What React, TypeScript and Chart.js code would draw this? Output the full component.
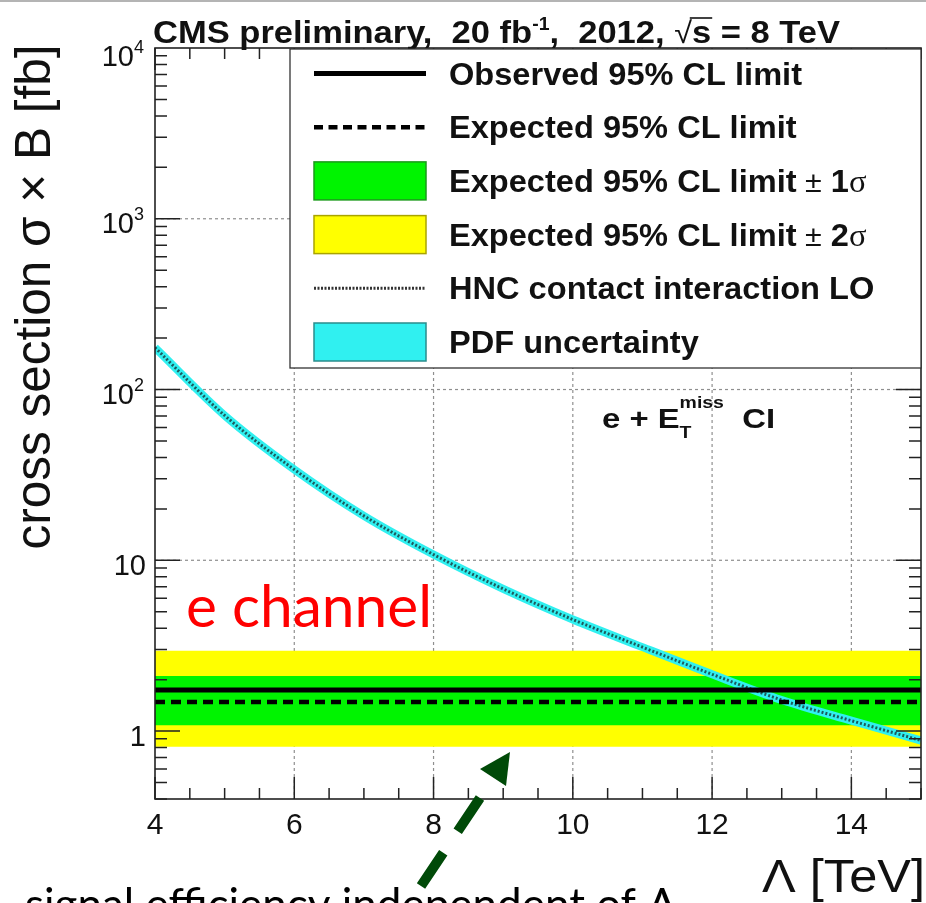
import React, { useEffect, useRef } from "react";
import { Chart, registerables } from "chart.js";

Chart.register(...registerables);

// Contact-interaction scale Λ (TeV) and the LO signal cross section σ×B (fb)
const lambdaTeV = [4, 5, 6, 7, 8, 9, 10, 11, 12, 13, 14, 15];
const hncCrossSection = [176, 70.5, 34, 18.2, 10.8, 6.8, 4.5, 3.1, 2.15, 1.52, 1.15, 0.88];

// Λ-independent 95% CL limits on σ×B (fb)
const observedLimit = 1.74;
const expectedLimit = 1.48;
const expectedOneSigma = [1.08, 2.1];
const expectedTwoSigma = [0.81, 2.95];

// Axis ranges and ticks
const xLimits = [4, 15];
const yLimits = [0.4, 1e4];
const xTickValues = [4, 6, 8, 10, 12, 14];
const xMinorStep = 0.5;
const yDecades = [1, 10, 100, 1000, 10000];
const yTickLabels = ["1", "10", "10^2", "10^3", "10^4"];

// Legend entries
const legendLabels = [
  "Observed 95% CL limit",
  "Expected 95% CL limit",
  "Expected 95% CL limit",
  "Expected 95% CL limit",
  "HNC contact interaction LO",
  "PDF uncertainty",
];
const legendSigma = ["", "", "1", "2", "", ""];
const legendKinds = ["solid", "dashed", "green", "yellow", "dotted", "cyan"];

const YELLOW = "#ffff00";
const GREEN = "#00f400";
const CYAN = "#30f0f0";
const CURVE_DOTS = "#1d5b5e";
const GRID = "#8f8f8f";
const FRAME = "#222222";
const ARROW = "#004a08";

const SANS = '"Liberation Sans", Arial, Helvetica, sans-serif';
const SERIF = '"Liberation Serif", "Times New Roman", serif';
const HUMANIST = 'Lato, "Open Sans", sans-serif';

type Part = { t: string; font: string; dy?: number; overline?: boolean; advance?: boolean };

function partsWidth(ctx: CanvasRenderingContext2D, parts: Part[]) {
  let w = 0;
  for (const p of parts) {
    ctx.font = p.font;
    if (p.advance !== false) w += ctx.measureText(p.t).width;
  }
  return w;
}

function drawParts(
  ctx: CanvasRenderingContext2D,
  parts: Part[],
  x: number,
  y: number,
  sx: number,
  align: "left" | "right" | "center" = "left"
) {
  const total = partsWidth(ctx, parts) * sx;
  let cx = align === "right" ? x - total : align === "center" ? x - total / 2 : x;
  ctx.textAlign = "left";
  ctx.textBaseline = "alphabetic";
  for (const p of parts) {
    ctx.font = p.font;
    const pw = ctx.measureText(p.t).width;
    ctx.save();
    ctx.translate(cx, y + (p.dy || 0));
    ctx.scale(sx, 1);
    ctx.fillText(p.t, 0, 0);
    if (p.overline) {
      ctx.lineWidth = 1.6;
      ctx.setLineDash([]);
      ctx.beginPath();
      ctx.moveTo(-2, -25);
      ctx.lineTo(pw + 1, -25);
      ctx.stroke();
    }
    ctx.restore();
    if (p.advance !== false) cx += pw * sx;
  }
}

function flat(v: number) {
  return [
    { x: xLimits[0], y: v },
    { x: xLimits[1], y: v },
  ];
}

const decorations = {
  id: "decorations",
  beforeDatasetsDraw(chart: any) {
    const { ctx, chartArea: a, scales } = chart;
    const xs = scales.x;
    const ys = scales.y;
    ctx.save();
    ctx.strokeStyle = GRID;
    ctx.lineWidth = 1.2;
    ctx.setLineDash([3, 3]);
    for (const v of xTickValues) {
      if (v <= xLimits[0] || v >= xLimits[1]) continue;
      const px = xs.getPixelForValue(v);
      ctx.beginPath();
      ctx.moveTo(px, a.top);
      ctx.lineTo(px, a.bottom);
      ctx.stroke();
    }
    for (const v of yDecades) {
      if (v <= yLimits[0] || v >= yLimits[1]) continue;
      const py = ys.getPixelForValue(v);
      ctx.beginPath();
      ctx.moveTo(a.left, py);
      ctx.lineTo(a.right, py);
      ctx.stroke();
    }
    ctx.restore();
  },
  afterDatasetsDraw(chart: any) {
    const { ctx, chartArea: a, scales } = chart;
    const xs = scales.x;
    const ys = scales.y;
    ctx.save();
    ctx.fillStyle = "#000";
    ctx.strokeStyle = FRAME;

    // axis ticks on all four sides
    ctx.lineWidth = 1.5;
    ctx.setLineDash([]);
    for (let v = xLimits[0]; v <= xLimits[1] + 1e-9; v += xMinorStep) {
      const px = xs.getPixelForValue(v);
      const len = xTickValues.includes(v) ? 22 : 11;
      ctx.beginPath();
      ctx.moveTo(px, a.bottom);
      ctx.lineTo(px, a.bottom - len);
      ctx.moveTo(px, a.top);
      ctx.lineTo(px, a.top + len);
      ctx.stroke();
    }
    for (let d = 0.1; d < yLimits[1]; d *= 10) {
      for (let m = 1; m <= 9; m++) {
        const v = m * d;
        if (v < yLimits[0] || v > yLimits[1]) continue;
        const py = ys.getPixelForValue(v);
        const len = m === 1 ? 25 : 12;
        ctx.beginPath();
        ctx.moveTo(a.left, py);
        ctx.lineTo(a.left + len, py);
        ctx.moveTo(a.right, py);
        ctx.lineTo(a.right - len, py);
        ctx.stroke();
      }
    }
    ctx.lineWidth = 1.6;
    ctx.strokeRect(a.left, a.top, a.right - a.left, a.bottom - a.top);

    // tick labels
    ctx.fillStyle = "#111";
    for (const v of xTickValues) {
      const px = xs.getPixelForValue(v);
      drawParts(ctx, [{ t: String(v), font: `30px ${SANS}` }], px, a.bottom + 34.5, 1, "center");
    }
    yDecades.forEach((v, i) => {
      const py = ys.getPixelForValue(v);
      const cy = Math.max(py + 4, a.top + 7);
      const [base, exp] = yTickLabels[i].split("^");
      const parts: Part[] = [{ t: base, font: `29px ${SANS}` }];
      if (exp) parts.push({ t: exp, font: `18px ${SANS}`, dy: -13 });
      drawParts(ctx, parts, exp ? 144 : 146, cy + 10.5, 1, "right");
    });

    // axis titles
    ctx.font = `46px ${SANS}`;
    const xTitle = "\u039B [TeV]";
    const xsx = 163 / ctx.measureText(xTitle).width;
    drawParts(ctx, [{ t: xTitle, font: `46px ${SANS}` }], 925, 892, xsx, "right");

    const yTitle = "cross section \u03C3 \u00D7 B [fb]";
    ctx.font = `50px ${SANS}`;
    const ysx = 505 / ctx.measureText(yTitle).width;
    ctx.save();
    ctx.translate(50, 297);
    ctx.rotate(-Math.PI / 2);
    drawParts(ctx, [{ t: yTitle, font: `50px ${SANS}` }], 0, 0, ysx, "center");
    ctx.restore();

    // header
    const B32 = `bold 32px ${SANS}`;
    const header: Part[] = [
      { t: "CMS preliminary,  20 fb", font: B32 },
      { t: "-1", font: `bold 18px ${SANS}`, dy: -13 },
      { t: ",  2012, ", font: B32 },
      { t: "\u221A", font: `30px ${SANS}` },
      { t: "s", font: B32, overline: true },
      { t: " = 8 TeV", font: B32 },
    ];
    const hsx = 687 / partsWidth(ctx, header);
    ctx.strokeStyle = "#111";
    drawParts(ctx, header, 153, 43, hsx, "left");

    // legend
    const lx0 = 290;
    const lx1 = a.right;
    const ly0 = a.top + 1;
    const ly1 = 368;
    ctx.fillStyle = "#fff";
    ctx.fillRect(lx0, ly0, lx1 - lx0, ly1 - ly0);
    ctx.strokeStyle = "#333";
    ctx.lineWidth = 1.3;
    ctx.strokeRect(lx0, ly0, lx1 - lx0, ly1 - ly0);

    const B31 = `bold 31px ${SANS}`;
    ctx.font = B31;
    const lsx = 353 / ctx.measureText(legendLabels[0]).width;
    const sx0 = 314;
    const sx1 = 426;
    legendLabels.forEach((label, i) => {
      const ry = ly0 + 24.5 + i * 53.7;
      const kind = legendKinds[i];
      ctx.setLineDash([]);
      if (kind === "solid" || kind === "dashed" || kind === "dotted") {
        ctx.strokeStyle = kind === "dotted" ? "#333" : "#000";
        ctx.lineWidth = kind === "solid" ? 5 : kind === "dashed" ? 4.5 : 3;
        ctx.setLineDash(kind === "dashed" ? [9, 5.5] : kind === "dotted" ? [2, 1.5] : []);
        ctx.beginPath();
        ctx.moveTo(sx0, ry);
        ctx.lineTo(sx1, ry);
        ctx.stroke();
        ctx.setLineDash([]);
      } else {
        const fill = kind === "green" ? GREEN : kind === "yellow" ? YELLOW : CYAN;
        const edge = kind === "green" ? "#1a9a1a" : kind === "yellow" ? "#a9a400" : "#2a8c8c";
        ctx.fillStyle = fill;
        ctx.fillRect(sx0, ry - 19, sx1 - sx0, 38);
        ctx.strokeStyle = edge;
        ctx.lineWidth = 1.5;
        ctx.strokeRect(sx0, ry - 19, sx1 - sx0, 38);
      }
      ctx.fillStyle = "#111";
      const parts: Part[] = [{ t: label, font: B31 }];
      if (legendSigma[i]) {
        parts.push({ t: " \u00B1", font: `29px ${SANS}` });
        parts.push({ t: " " + legendSigma[i], font: B31 });
        parts.push({ t: "\u03C3", font: `31px ${SERIF}` });
      }
      drawParts(ctx, parts, 449, ry + 11, lsx, "left");
    });

    // channel annotation
    ctx.fillStyle = "#111";
    const B27 = `bold 27px ${SANS}`;
    const S16 = `bold 16px ${SANS}`;
    const chan: Part[] = [
      { t: "e + E", font: B27 },
      { t: "T", font: S16, dy: 10, advance: false },
      { t: "miss", font: S16, dy: -20 },
      { t: "  CI", font: B27 },
    ];
    const csx = 173 / partsWidth(ctx, chan);
    drawParts(ctx, chan, 602, 428, csx, "left");

    ctx.fillStyle = "#ff0000";
    ctx.font = `59px ${HUMANIST}`;
    const eText = "e channel";
    const esx = 246 / ctx.measureText(eText).width;
    drawParts(ctx, [{ t: eText, font: `59px ${HUMANIST}` }], 186, 627, esx, "left");

    ctx.fillStyle = "#000";
    const note = "signal efficiency independent of \u039B";
    ctx.font = `44px ${HUMANIST}`;
    const nsx = 652 / ctx.measureText(note).width;
    drawParts(ctx, [{ t: note, font: `44px ${HUMANIST}` }], 25, 920, nsx, "left");

    // dashed arrow pointing at the limit band
    ctx.strokeStyle = ARROW;
    ctx.fillStyle = ARROW;
    ctx.lineWidth = 10;
    ctx.lineCap = "butt";
    ctx.setLineDash([40, 26]);
    ctx.beginPath();
    ctx.moveTo(421, 886);
    ctx.lineTo(494, 777);
    ctx.stroke();
    ctx.setLineDash([]);
    ctx.beginPath();
    ctx.moveTo(510, 752);
    ctx.lineTo(506, 786);
    ctx.lineTo(480, 769);
    ctx.closePath();
    ctx.fill();

    // thin grey rule along the top edge
    ctx.fillStyle = "#b4b4b4";
    ctx.fillRect(0, 0, chart.width, 2);
    ctx.restore();
  },
};

export default function App() {
  const canvasRef = useRef<HTMLCanvasElement | null>(null);

  useEffect(() => {
    const canvas = canvasRef.current;
    if (!canvas) return;
    const curve = lambdaTeV.map((x, i) => ({ x, y: hncCrossSection[i] }));
    const chart = new Chart(canvas, {
      type: "line",
      data: {
        datasets: [
          {
            label: "Expected 95% CL limit ± 2σ",
            data: flat(expectedTwoSigma[1]),
            borderColor: "transparent",
            borderWidth: 0,
            pointRadius: 0,
            backgroundColor: YELLOW,
            fill: "+1",
            order: 10,
          },
          {
            label: "2σ lower edge",
            data: flat(expectedTwoSigma[0]),
            borderColor: "transparent",
            borderWidth: 0,
            pointRadius: 0,
            fill: false,
            order: 10,
          },
          {
            label: "Expected 95% CL limit ± 1σ",
            data: flat(expectedOneSigma[1]),
            borderColor: "transparent",
            borderWidth: 0,
            pointRadius: 0,
            backgroundColor: GREEN,
            fill: "+1",
            order: 9,
          },
          {
            label: "1σ lower edge",
            data: flat(expectedOneSigma[0]),
            borderColor: "transparent",
            borderWidth: 0,
            pointRadius: 0,
            fill: false,
            order: 9,
          },
          {
            label: "PDF uncertainty",
            data: curve,
            borderColor: CYAN,
            borderWidth: 8,
            pointRadius: 0,
            cubicInterpolationMode: "monotone",
            fill: false,
            order: 6,
          },
          {
            label: "HNC contact interaction LO",
            data: curve,
            borderColor: CURVE_DOTS,
            borderWidth: 3,
            borderDash: [2, 2],
            pointRadius: 0,
            cubicInterpolationMode: "monotone",
            fill: false,
            order: 5,
          },
          {
            label: "Expected 95% CL limit",
            data: flat(expectedLimit),
            borderColor: "#000",
            borderWidth: 4.5,
            borderDash: [10, 6],
            pointRadius: 0,
            fill: false,
            order: 3,
          },
          {
            label: "Observed 95% CL limit",
            data: flat(observedLimit),
            borderColor: "#000",
            borderWidth: 5,
            pointRadius: 0,
            fill: false,
            order: 2,
          },
        ],
      },
      options: {
        responsive: false,
        animation: false,
        devicePixelRatio: 1,
        layout: { padding: { left: 155, top: 48, right: 5, bottom: 104 } },
        scales: {
          x: { type: "linear", min: xLimits[0], max: xLimits[1], display: false },
          y: { type: "logarithmic", min: yLimits[0], max: yLimits[1], display: false },
        },
        plugins: {
          legend: { display: false },
          tooltip: { enabled: false },
        },
      },
      plugins: [decorations],
    });
    return () => chart.destroy();
  }, []);

  return (
    <div style={{ position: "absolute", left: 0, top: 0, width: 926, height: 903, background: "#fff" }}>
      <canvas ref={canvasRef} width={926} height={903} style={{ display: "block" }} />
    </div>
  );
}
